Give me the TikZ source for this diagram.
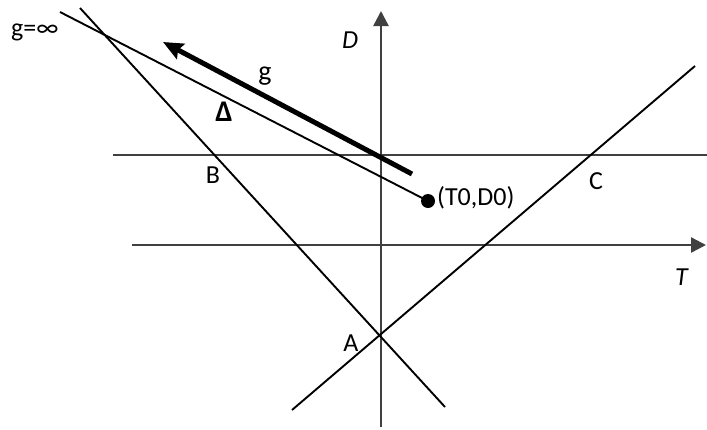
\documentclass[tikz,border=0pt]{standalone}
\usepackage{fontspec}
\setmainfont{Carlito}
\usetikzlibrary{arrows.meta}

\begin{document}
\begin{tikzpicture}[x=1pt,y=-1pt,
  lbl/.style={font=\fontsize{26}{30}\selectfont,inner sep=0pt,anchor=base},
  axis/.style={line width=2.4pt,black!75,-{Triangle[length=15pt,width=15pt]}},
  hline/.style={line width=2.4pt,black!75},
  thin/.style={line width=1.9pt},
  garrow/.style={line width=5pt,-{Stealth[length=20pt,width=17pt,inset=3pt]}}]
\useasboundingbox (0,0) rectangle (707,429);
% axes
\coordinate (d0) at (381,427);
\coordinate (d1) at (381,11);
\coordinate (t0) at (132,245);
\coordinate (t1) at (706,245);
\draw[axis] (d0) -- (d1);
\draw[axis] (t0) -- (t1);
% lines
\coordinate (h0) at (113,155);
\coordinate (h1) at (707,155);
\coordinate (s0) at (80,8);
\coordinate (s1) at (445,407);
\coordinate (r0) at (292,410);
\coordinate (r1) at (695,66);
\coordinate (dl) at (60,12);
\coordinate (g0) at (412,174);
\coordinate (g1) at (163,42);
\node[circle,fill,inner sep=0pt,minimum size=14pt] (p0) at (428,201) {};
\draw[hline] (h0) -- (h1);
\draw[thin] (s0) -- (s1);
\draw[thin] (r0) -- (r1);
\draw[thin] (dl) -- (p0.center);
\draw[garrow] (g0) -- (g1);
% labels
\node[lbl,anchor=base west] (ginf) at (11,36) {g=∞};
\node[lbl,font=\fontsize{28}{32}\selectfont] (lg) at (265,80) {g};
\node[lbl,font=\fontsize{30}{34}\selectfont] (ldelta) at (224,121) {\textbf{Δ}};
\node[lbl] (lD) at (350,48) {\textit{D}};
\node[lbl] (lT) at (682,285) {\textit{T}};
\node[lbl] (lB) at (213,183) {B};
\node[lbl] (lC) at (596,189) {C};
\node[lbl] (lA) at (351,351) {A};
\node[lbl,anchor=base west] (lp0) at (437,205) {(T0,D0)};
\end{tikzpicture}
\end{document}
